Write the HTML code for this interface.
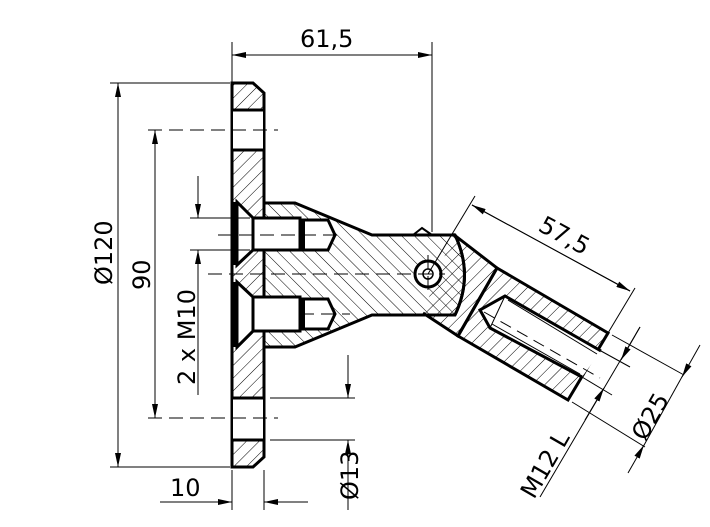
<!DOCTYPE html>
<html><head><meta charset="utf-8"><style>
html,body{margin:0;padding:0;background:#fff}
svg{display:block}
text{font-family:"DejaVu Sans","Liberation Sans",sans-serif;fill:#000}
</style></head><body>
<svg width="710" height="527" viewBox="0 0 710 527" xmlns="http://www.w3.org/2000/svg">
<defs>
<pattern id="h1" patternUnits="userSpaceOnUse" width="9" height="9" patternTransform="rotate(45)">
<line x1="0" y1="0" x2="0" y2="9" stroke="#000" stroke-width="1"/></pattern>
<pattern id="h2" patternUnits="userSpaceOnUse" width="9" height="9" patternTransform="rotate(-45)">
<line x1="0" y1="0" x2="0" y2="9" stroke="#000" stroke-width="1"/></pattern>
<marker id="a" viewBox="0 0 14 6" refX="14" refY="3" markerWidth="14" markerHeight="6" orient="auto" markerUnits="userSpaceOnUse">
<path d="M0,0 L14,3 L0,6 z" fill="#000"/></marker>
</defs>

<g stroke="#000" fill="none">
<path d="M232,83 L253,83 L264,93 L264,457 L253,467 L232,467 Z" fill="url(#h1)" stroke-width="3"/>
<rect x="233" y="110" width="30" height="40" fill="#fff" stroke="none"/>
<rect x="233" y="398" width="30" height="42" fill="#fff" stroke="none"/>
<line x1="232" y1="110" x2="264" y2="110" stroke-width="3"/>
<line x1="232" y1="150" x2="264" y2="150" stroke-width="3"/>
<line x1="232" y1="398" x2="264" y2="398" stroke-width="3"/>
<line x1="232" y1="440" x2="264" y2="440" stroke-width="3"/>

<path d="M264,203 L295,203 L372,235 L455,235 Q474,275 455,315 L372,315 L295,347 L264,347 Z" fill="url(#h2)" stroke-width="3"/>
<path d="M453,234 L497,268 L458,336 L423,313" fill="url(#h1)" stroke-width="3"/>
<path d="M455,235 Q474,275 455,315" fill="none" stroke-width="3"/>
<path d="M413,235 L422,228 L432,235" stroke-width="2"/>
<path d="M497,268 L608,333 L568,400 L458,336 Z" fill="url(#h1)" stroke-width="3"/>
<path d="M505,296 L601,351 L582,377 L490,328 L480,310 Z" fill="#fff" stroke="none"/>
<path d="M601,351 L505,296 L480,310 L490,328 L582,377" stroke-width="3"/>
<line x1="508" y1="300" x2="597" y2="354" stroke-width="1"/>
<line x1="492" y1="324" x2="580" y2="374" stroke-width="1"/>
<line x1="490" y1="328" x2="505" y2="296" stroke-width="1"/>
<line x1="484" y1="312" x2="600" y2="378" stroke-dasharray="12,7" stroke-width="1"/>

<path d="M237,202 L253,218 L253,250 L237,265 Z" fill="#fff" stroke-width="3"/>
<rect x="253" y="218" width="47" height="32" fill="#fff" stroke-width="3"/>
<path d="M300,220 L328,220 L335,235 L328,250 L300,250 Z" fill="#fff" stroke-width="3"/>
<line x1="303" y1="220" x2="303" y2="250" stroke-width="4"/>
<path d="M237,282 L253,297 L253,331 L237,347 Z" fill="#fff" stroke-width="3"/>
<rect x="253" y="297" width="47" height="34" fill="#fff" stroke-width="3"/>
<path d="M300,299 L328,299 L335,314 L328,329 L300,329 Z" fill="#fff" stroke-width="3"/>
<line x1="303" y1="299" x2="303" y2="329" stroke-width="4"/>
<line x1="235" y1="202" x2="235" y2="265" stroke-width="3"/>
<line x1="235" y1="282" x2="235" y2="347" stroke-width="3"/>

<circle cx="428" cy="274" r="13" fill="#fff" stroke-width="3"/>
<circle cx="428" cy="274" r="5" stroke-width="1.5"/>

<g stroke-width="1" stroke-dasharray="14,7">
<line x1="208" y1="274" x2="445" y2="274"/>
<line x1="218" y1="235" x2="340" y2="235"/>
<line x1="300" y1="314" x2="350" y2="314"/>
<line x1="148" y1="130" x2="278" y2="130"/>
<line x1="148" y1="418" x2="278" y2="418"/>
<line x1="428" y1="255" x2="428" y2="295"/>
</g>

<g stroke-width="1">
<line x1="232" y1="42" x2="232" y2="83"/>
<line x1="432" y1="42" x2="432" y2="232"/>
<line x1="232" y1="55" x2="432" y2="55" marker-end="url(#a)"/>
<line x1="432" y1="55" x2="232" y2="55" marker-end="url(#a)"/>
<line x1="110" y1="83" x2="230" y2="83"/>
<line x1="110" y1="467" x2="230" y2="467"/>
<line x1="118" y1="275" x2="118" y2="83" marker-end="url(#a)"/>
<line x1="118" y1="275" x2="118" y2="467" marker-end="url(#a)"/>
<line x1="155" y1="275" x2="155" y2="130" marker-end="url(#a)"/>
<line x1="155" y1="275" x2="155" y2="418" marker-end="url(#a)"/>
<line x1="190" y1="218" x2="250" y2="218"/>
<line x1="190" y1="250" x2="250" y2="250"/>
<line x1="198" y1="176" x2="198" y2="218" marker-end="url(#a)"/>
<line x1="198" y1="395" x2="198" y2="250" marker-end="url(#a)"/>
<line x1="270" y1="398" x2="355" y2="398"/>
<line x1="270" y1="440" x2="355" y2="440"/>
<line x1="348" y1="355" x2="348" y2="398" marker-end="url(#a)"/>
<line x1="348" y1="510" x2="348" y2="440" marker-end="url(#a)"/>
<line x1="232" y1="470" x2="232" y2="510"/>
<line x1="264" y1="470" x2="264" y2="510"/>
<line x1="160" y1="502" x2="232" y2="502" marker-end="url(#a)"/>
<line x1="308" y1="502" x2="264" y2="502" marker-end="url(#a)"/>
<line x1="428" y1="274" x2="475" y2="196"/>
<line x1="608" y1="333" x2="635" y2="288"/>
<line x1="472" y1="205" x2="630" y2="291" marker-end="url(#a)"/>
<line x1="630" y1="291" x2="472" y2="205" marker-end="url(#a)"/>
<line x1="612" y1="335" x2="684" y2="375"/>
<line x1="572" y1="402" x2="645" y2="447"/>
<line x1="683" y1="375" x2="643" y2="447"/>
<line x1="700" y1="345" x2="682" y2="377" marker-end="url(#a)"/>
<line x1="628" y1="473" x2="644" y2="445" marker-end="url(#a)"/>
<line x1="601" y1="351" x2="630" y2="367"/>
<line x1="582" y1="377" x2="612" y2="395"/>
<line x1="640" y1="327" x2="540" y2="497"/>
<line x1="640" y1="327" x2="621" y2="360" marker-end="url(#a)"/>
<line x1="585" y1="420" x2="604" y2="388" marker-end="url(#a)"/>
</g>
</g>

<g font-size="24">
<text x="300" y="47">61,5</text>
<text transform="translate(112,285) rotate(-90)">Ø120</text>
<text transform="translate(150,290) rotate(-90)">90</text>
<text transform="translate(195,385) rotate(-90)">2 x M10</text>
<text transform="translate(358,500) rotate(-90)">Ø13</text>
<text x="170" y="496">10</text>
<text transform="translate(537,230) rotate(28.5)">57,5</text>
<text transform="translate(645,442) rotate(-60)">Ø25</text>
<text transform="translate(534,500) rotate(-60)">M12 L</text>
</g>
</svg>
</body></html>
